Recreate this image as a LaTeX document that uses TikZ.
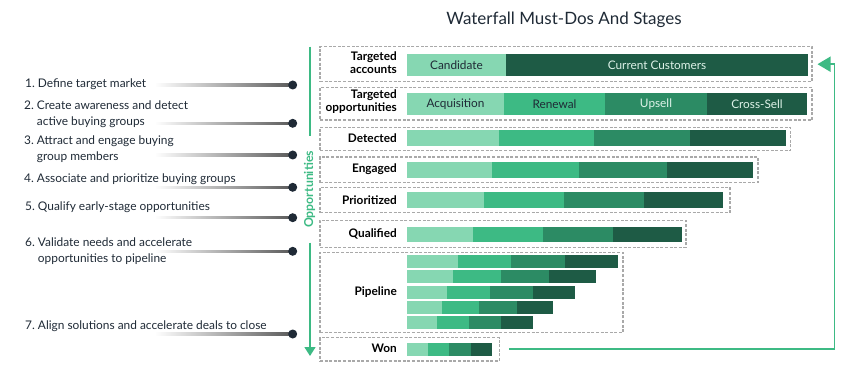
\documentclass[tikz,border=0pt]{standalone}
\usepackage{fontspec}
\setmainfont{Lato}
\usetikzlibrary{arrows.meta,calc}
\definecolor{c1}{HTML}{86D7B2}
\definecolor{c2}{HTML}{3DBA84}
\definecolor{c3}{HTML}{2C8B64}
\definecolor{c4}{HTML}{1E5B45}
\definecolor{ink}{HTML}{1F2A36}
\definecolor{lightink}{HTML}{DDF2E8}
\definecolor{boxgray}{HTML}{A9A9A9}
\definecolor{gline}{HTML}{3DBA84}
\tikzset{
  seg/.style={draw=none, inner sep=0pt, outer sep=0pt, font=\fontsize{11.8}{13}\selectfont},
  dbox/.style={draw=boxgray, dash pattern=on 3pt off 1.6pt, line width=1.2pt, inner sep=0pt, outer sep=0pt},
  item/.style={anchor=west, align=left, inner sep=0pt, text=ink, font=\fontsize{11.9}{16}\selectfont},
  stage/.style={anchor=east, align=right, inner sep=0pt, text=black, font=\bfseries\fontsize{11.8}{13}\selectfont},
  dot/.style={circle, fill=ink, inner sep=0pt, minimum size=9pt},
  gconn/.style={draw=gline, line width=1.8pt},
}
\newcommand\mkseg[8]{\node[seg, fill=#6, text=#7, minimum width={#3-#2}, minimum height={#5-#4}, anchor=north west] (#1) at (#2,#4) {#8};}
\newcommand\mkbox[5]{\node[dbox, minimum width={#3-#2}, minimum height={#5-#4}, anchor=north west] (#1) at (#2,#4) {};}
\newcommand\fourbar[8]{%
  \mkseg{#1a}{#4}{#5}{#2}{#3}{c1}{ink}{}%
  \mkseg{#1b}{#5}{#6}{#2}{#3}{c2}{ink}{}%
  \mkseg{#1c}{#6}{#7}{#2}{#3}{c3}{ink}{}%
  \mkseg{#1d}{#7}{#8}{#2}{#3}{c4}{ink}{}}
\begin{document}
\begin{tikzpicture}[x=1pt, y=-1pt]
\useasboundingbox (0,0) rectangle (860,385);

% title
\node[text=ink, font=\fontsize{17}{20}\selectfont] (title) at (564,20) {Waterfall Must-Dos And Stages};

% dashed stage boxes
\mkbox{bta}{320}{812}{46.7}{81.7}
\mkbox{bto}{320}{812}{87.7}{120}
\mkbox{bdet}{320}{790.5}{127.3}{150.7}
\mkbox{beng}{320}{758}{157}{182.7}
\mkbox{bpri}{320}{730}{187.3}{212.7}
\mkbox{bqua}{320}{686}{220.3}{247.3}
\mkbox{bpip}{320}{623}{252.3}{332.7}
\mkbox{bwon}{320}{499.3}{337.7}{361}

% stage labels
\node[stage] (lta) at (397,63) {Targeted\\accounts};
\node[stage] (lto) at (397,102) {Targeted\\opportunities};
\node[stage] (ldet) at (397,138) {Detected};
\node[stage] (leng) at (397,169.5) {Engaged};
\node[stage] (lpri) at (397,200) {Prioritized};
\node[stage] (lqua) at (397,233.5) {Qualified};
\node[stage] (lpip) at (397,292) {Pipeline};
\node[stage] (lwon) at (397,348) {Won};

% bars
\mkseg{ta1}{407}{506}{54}{75.7}{c1}{ink}{Candidate}
\mkseg{ta2}{506}{808}{54}{75.7}{c4}{lightink}{Current Customers}
\mkseg{to1}{407}{504}{93.3}{115}{c1}{ink}{Acquisition}
\mkseg{to2}{504}{605}{93.3}{115}{c2}{ink}{Renewal}
\mkseg{to3}{605}{707}{93.3}{115}{c3}{lightink}{Upsell}
\mkseg{to4}{707}{807}{93.3}{115}{c4}{lightink}{Cross-Sell}
\fourbar{det}{130}{146}{407}{499}{594}{690}{786}
\fourbar{eng}{161.7}{177.7}{407}{492}{579}{667}{753}
\fourbar{pri}{192.3}{207.7}{407}{484}{564}{644}{723}
\fourbar{qua}{227}{242.3}{407}{473}{543}{613}{682}
\fourbar{pa}{255}{267.7}{407}{458}{511}{565}{618}
\fourbar{pb}{270}{282.7}{407}{453}{501}{549}{596}
\fourbar{pc}{286}{298.7}{407}{447}{490}{533}{575}
\fourbar{pd}{301}{313.7}{407}{442}{479}{517}{553}
\fourbar{pe}{316}{328.7}{407}{437}{469}{501}{533}
\fourbar{won}{343.3}{355.7}{407}{428}{449}{471}{492}

% left list
\node[item] (t1) at (25,84) {1.~Define target market};
\node[item] (t2) at (24,114.7) {2.~Create awareness and detect\\\phantom{2.~}active buying groups};
\node[item] (t3) at (24,149) {3.~Attract and engage buying\\\phantom{3.~}group members};
\node[item] (t4) at (24,179) {4.~Associate and prioritize buying groups};
\node[item] (t5) at (25,207.7) {5.~Qualify early-stage opportunities};
\node[item] (t6) at (25,251.3) {6.~Validate needs and accelerate\\\phantom{6.~}opportunities to pipeline};
\node[item] (t7) at (25,326.7) {7.~Align solutions and accelerate deals to close};

\foreach \i/\y in {1/85,2/123.3,3/155,4/187.3,5/217.7,6/251.3,7/334}{
  \shade[left color=white, right color=black!65] ($(292.7,\y)+(-138,-1.2)$) rectangle ($(292.7,\y)+(0,1.2)$);
  \node[dot] (d\i) at (292.7,\y) {};
}

% opportunities axis
\node[rotate=90, text=c2, font=\bfseries\fontsize{12.3}{14}\selectfont, inner sep=0pt] (opp) at (309.5,189.5) {Opportunities};
\coordinate (ot1) at (310,46.7);
\coordinate (ot2) at (310,135.7);
\coordinate (ob1) at (310,242.7);
\coordinate (ob2) at (310,356);
\draw[gconn, line width=1.6pt] (ot1) -- (ot2);
\draw[gconn, line width=1.6pt, -{Triangle[length=9pt,width=11pt]}] (ob1) -- (ob2);

% return arrow
\coordinate (rc) at (834.5,200);
\draw[gconn, -{Triangle[length=13pt,width=15pt]}] ([xshift=9.5pt]bwon.east) -| (rc) |- ([xshift=5.5pt]bta.east);
\end{tikzpicture}
\end{document}
